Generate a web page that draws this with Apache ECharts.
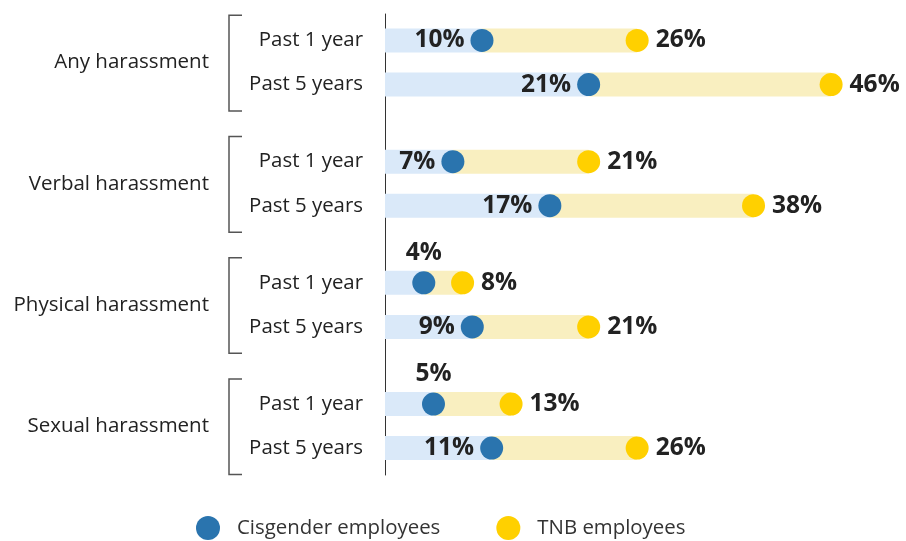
<!DOCTYPE html>
<html><head><meta charset="utf-8">
<script src="https://cdn.jsdelivr.net/npm/echarts@6/dist/echarts.min.js"></script>
<style>html,body{margin:0;padding:0;background:#fff}#c{width:906px;height:541px}</style>
</head><body><div id="c"></div>
<script>
const groups = ['Any harassment','Verbal harassment','Physical harassment','Sexual harassment'];
const periods = ['Past 1 year','Past 5 years'];
const cis = [10,21,7,17,4,9,5,11];
const tnb = [26,46,21,38,8,21,13,26];
const seriesNames = ['Cisgender employees','TNB employees'];

const GROUP_STEP = 2.75;
const rowPos = [], rowLabel = {};
groups.forEach((g,gi)=>periods.forEach((p,pi)=>{const y=gi*GROUP_STEP+pi; rowPos.push(y); rowLabel[y]=p;}));
const groupPos = groups.map((g,gi)=>gi*GROUP_STEP+0.5);
const groupLabel = {}; groupPos.forEach((y,i)=>groupLabel[y]=groups[i]);

const FONT = 'Open Sans';
const CIS_C = '#2a74ae', TNB_C = '#ffd000', CIS_BAR = '#dae9f9', TNB_BAR = '#f9efc0', TXT='#222';
const yMin = -0.6, yMax = 3*GROUP_STEP + 1 + 0.61;

const chart = echarts.init(document.getElementById('c'), null, {renderer:'canvas'});
chart.setOption({
  animation:false,
  textStyle:{fontFamily:FONT},
  grid:{left:385, right:7, top:14, bottom:66, containLabel:false},
  xAxis:{type:'value', min:0, max:53, show:false},
  yAxis:[
    {type:'value', inverse:true, min:yMin, max:yMax,
     axisLine:{show:true, onZero:false, lineStyle:{color:'#333', width:1}},
     axisTick:{show:false}, splitLine:{show:false},
     axisLabel:{customValues:rowPos, margin:22, fontSize:20.4, color:TXT, fontFamily:FONT,
       formatter:v=>rowLabel[v] ?? ''}},
    {type:'value', inverse:true, min:yMin, max:yMax, position:'left',
     axisLine:{show:false}, axisTick:{show:false}, splitLine:{show:false},
     axisLabel:{customValues:groupPos, margin:176, fontSize:20.5, color:TXT, fontFamily:FONT,
       formatter:v=>groupLabel[v] ?? ''}}
  ],
  legend:{data:seriesNames, top:511, left:191, icon:'circle', itemWidth:24, itemHeight:24, itemGap:56,
    textStyle:{fontSize:20.4, color:'#333', fontFamily:FONT, padding:[0,0,0,12]}},
  series:[
    {type:'custom', name:'bars', silent:true, z:1, clip:false,
     data: rowPos.map((y,i)=>[cis[i], tnb[i], y]),
     renderItem:(params, api)=>{
       const c=api.value(0), t=api.value(1), y=api.value(2);
       const p0=api.coord([0,y]), p1=api.coord([c,y]), p2=api.coord([t,y]);
       const h=24;
       return {type:'group', children:[
         {type:'rect', shape:{x:p0[0], y:p0[1]-h/2, width:p1[0]-p0[0], height:h}, style:{fill:CIS_BAR}},
         {type:'rect', shape:{x:p1[0], y:p1[1]-h/2, width:p2[0]-p1[0], height:h}, style:{fill:TNB_BAR}}
       ]};
     }},
    {type:'custom', name:'brackets', silent:true, z:1, clip:false,
     data: groupPos.map(y=>[y]),
     renderItem:(params, api)=>{
       const y=api.value(0);
       const top=api.coord([0,y-1.07]), bot=api.coord([0,y+1.1]);
       const x0=top[0]-156, x1=x0+13;
       return {type:'polyline', shape:{points:[[x1,top[1]],[x0,top[1]],[x0,bot[1]],[x1,bot[1]]]},
         style:{stroke:'#555', lineWidth:1.5, fill:null}};
     }},
    {type:'scatter', name:seriesNames[0], z:3, symbolSize:23, itemStyle:{color:CIS_C, opacity:1},
     data: rowPos.map((y,i)=>({value:[cis[i], y],
       label:{position: cis[i] < 6 ? 'top' : 'left'}})),
     label:{show:true, formatter:p=>p.value[0]+'%', fontSize:24.5, fontWeight:'bold', color:TXT, distance:6, fontFamily:FONT}},
    {type:'scatter', name:seriesNames[1], z:3, symbolSize:23, itemStyle:{color:TNB_C, opacity:1},
     data: rowPos.map((y,i)=>[tnb[i], y]),
     label:{show:true, position:'right', formatter:p=>p.value[0]+'%', fontSize:24.5, fontWeight:'bold', color:TXT, distance:7, fontFamily:FONT}}
  ]
});
</script></body></html>
